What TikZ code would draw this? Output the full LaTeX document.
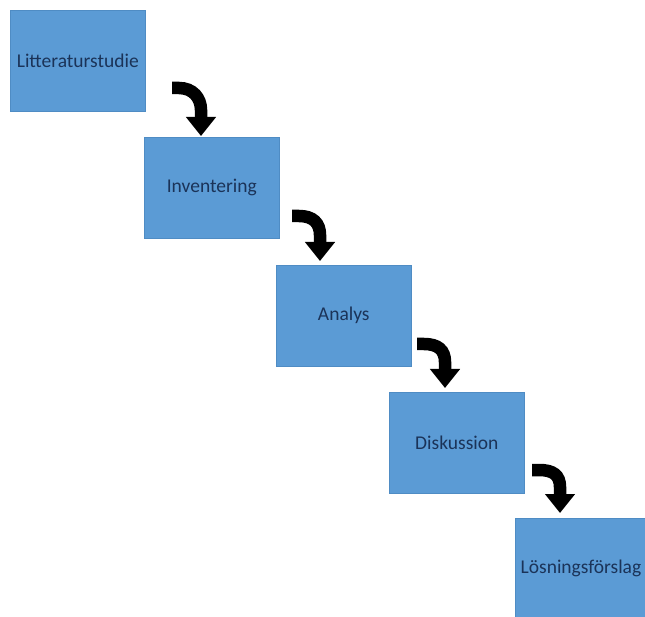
\documentclass[tikz,border=0pt]{standalone}
\usepackage{fontspec}
\setmainfont{Carlito}
\usetikzlibrary{arrows.meta,calc}
\definecolor{boxblue}{HTML}{5B9BD5}
\definecolor{boxedge}{HTML}{4F8CC4}
\definecolor{txt}{HTML}{1B3358}
\begin{document}
\begin{tikzpicture}[x=1pt,y=-1pt,
  stage/.style={fill=boxblue, draw=boxedge, line width=0.6pt, minimum width=135pt, minimum height=101pt,
    inner sep=0pt, text=txt, font=\fontsize{19.5}{23}\selectfont, anchor=north west},
  flow/.style={line width=12.5pt, draw=black, -{Triangle[length=19pt,width=29pt]}}]
\useasboundingbox (0,0) rectangle (645,617);
\clip (0,0) rectangle (645,617);
\fill[white] (0,0) rectangle (645,617);
\node[stage] (a) at (10,10) {Litteraturstudie};
\node[stage] (b) at (144,137) {Inventering};
\node[stage] (c) at (276,265) {Analys};
\node[stage] (d) at (389,392) {Diskussion};
\node[stage, minimum width=136pt, minimum height=102pt] (e) at (515,518) {};
\node[text=txt, font=\fontsize{19.5}{23}\selectfont] (etext) at (581,568) {Lösningsförslag};
% arrows
\coordinate (t1) at ($(b.north west)+(57,-1)$);
\coordinate (s1) at ($(t1)+(-29,-48)$);
\coordinate (t2) at ($(c.north west)+(44,-4)$);
\coordinate (s2) at ($(t2)+(-28,-45)$);
\coordinate (t3) at ($(d.north west)+(56,-4)$);
\coordinate (s3) at ($(t3)+(-28,-44)$);
\coordinate (t4) at ($(e.north west)+(45,-5)$);
\coordinate (s4) at ($(t4)+(-28,-43)$);
\foreach \i in {1,2,3,4}{
  \draw[flow] (s\i) -- ($(s\i)+(7,0)$) .. controls ($(s\i)+(21,0)$) and ($(t\i)+(0,-38)$) .. ($(t\i)+(0,-26)$) -- (t\i);
}
\end{tikzpicture}
\end{document}
